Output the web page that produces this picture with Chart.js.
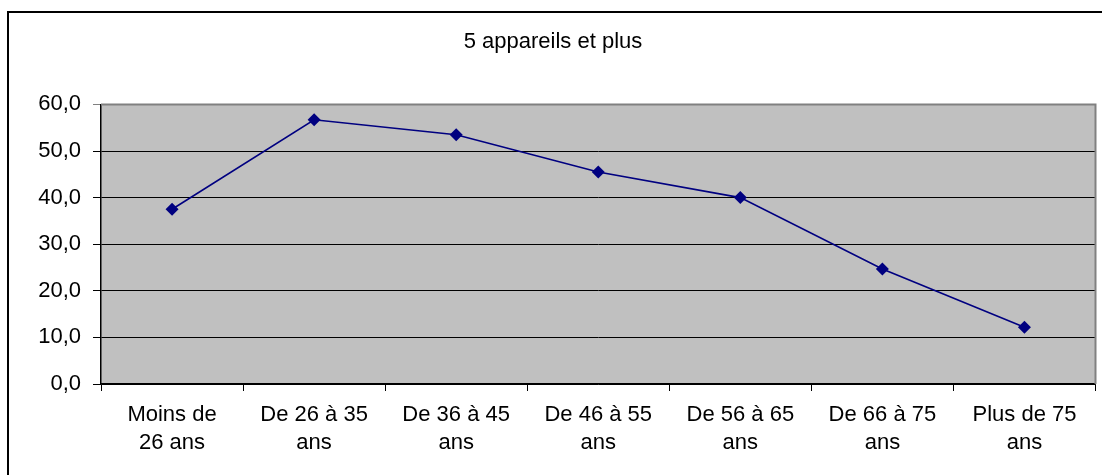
<!DOCTYPE html>
<html>
<head>
<meta charset="utf-8">
<script src="https://cdn.jsdelivr.net/npm/chart.js@4/dist/chart.umd.min.js"></script>
<style>
    body { margin: 0; background: #fff; overflow: hidden; }
    #wrap {
        position: absolute; left: 7px; top: 11px;
        width: 1093px; height: 462px;
        border-top: 2px solid #000; border-left: 2px solid #000;
    }
</style>
</head>
<body>
<div id="wrap"><canvas id="lineChart"></canvas></div>
<script>
const ageGroups = [
    ['Moins de', '26 ans'],
    ['De 26 à 35', 'ans'],
    ['De 36 à 45', 'ans'],
    ['De 46 à 55', 'ans'],
    ['De 56 à 65', 'ans'],
    ['De 66 à 75', 'ans'],
    ['Plus de 75', 'ans']
]
const share = [37.5, 56.7, 53.5, 45.5, 40.0, 24.7, 12.2]
const yTicks = [0, 10, 20, 30, 40, 50, 60]

Chart.defaults.color = '#000'
Chart.defaults.font.family = "'Liberation Sans', Arial, sans-serif"

// grey plot area with its grey frame, like the old Excel charts
const plotArea = {
    id: 'plotArea',
    beforeDraw(chart) {
        const { ctx, chartArea: a } = chart
        ctx.save()
        ctx.fillStyle = '#C0C0C0'
        ctx.fillRect(a.left, a.top, a.right - a.left, a.bottom - a.top)
        ctx.restore()
    },
    beforeDatasetsDraw(chart) {
        const { ctx, chartArea: a } = chart
        ctx.save()
        ctx.strokeStyle = '#808080'
        ctx.lineWidth = 2
        ctx.beginPath()
        ctx.moveTo(a.left, a.top)
        ctx.lineTo(a.right, a.top)
        ctx.lineTo(a.right, a.bottom)
        ctx.stroke()
        ctx.restore()
    }
}

const ctx = document.getElementById('lineChart').getContext('2d')

new Chart(ctx, {
    type: 'line',
    data: {
        labels: ageGroups,
        datasets: [{
            label: '5 appareils et plus',
            data: share,
            borderColor: '#000080',
            backgroundColor: '#000080',
            borderWidth: 1.6,
            pointStyle: 'rectRot',
            pointRadius: 6.5,
            pointBorderWidth: 0,
            tension: 0,
        }]
    },
    options: {
        responsive: true,
        maintainAspectRatio: false,
        animation: false,
        layout: { padding: { left: 0, right: 5, top: 0, bottom: 0 } },
        scales: {
            x: {
                offset: true,
                grid: {
                    offset: true,
                    drawOnChartArea: false,
                    color: '#000',
                    tickLength: 7,
                },
                border: { color: '#000', width: 1.5 },
                ticks: {
                    maxRotation: 0,
                    autoSkip: false,
                    padding: 10,
                    font: { size: 22, lineHeight: 1.27 },
                },
                afterFit: (scale) => { scale.height = 91 }
            },
            y: {
                min: 0,
                max: 60,
                afterBuildTicks: (scale) => { scale.ticks = yTicks.map(v => ({ value: v })) },
                grid: {
                    color: (c) => c.tick && c.tick.value === 60 ? '#808080' : '#000',
                    tickLength: 8,
                },
                border: { color: '#000', width: 1.5 },
                ticks: {
                    padding: 12,
                    font: { size: 22 },
                    callback: (v) => v.toFixed(1).replace('.', ',')
                },
                afterFit: (scale) => { scale.width = 92 }
            }
        },
        plugins: {
            legend: { display: false },
            tooltip: { enabled: false },
            title: {
                display: true,
                text: '5 appareils et plus',
                font: { size: 22, weight: 'normal', lineHeight: 1.2 },
                padding: { top: 16, bottom: 49 }
            }
        }
    },
    plugins: [plotArea]
})
</script>
</body>
</html>
